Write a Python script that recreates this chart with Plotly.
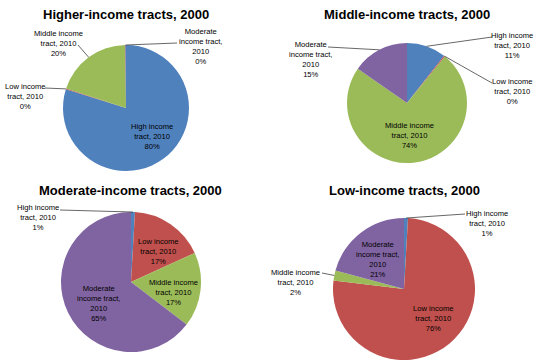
import math
import plotly.graph_objects as go

W, H = 535, 360

# Destination tract category in 2010 (slice order, clockwise from 12 o'clock)
categories = ["High income", "Low income", "Middle income", "Moderate income"]
label_lines = [
    "High income<br>tract, 2010",
    "Low income<br>tract, 2010",
    "Middle income<br>tract, 2010",
    "Moderate<br>income tract,<br>2010",
]
colors = ["#4F81BD", "#C0504D", "#9BBB59", "#8064A2"]

titles = [
    "Higher-income tracts, 2000",
    "Middle-income tracts, 2000",
    "Moderate-income tracts, 2000",
    "Low-income tracts, 2000",
]

# Share (%) of 2000 tracts by 2010 income category
higher_2000 = [79.8, 0.2, 19.8, 0.2]
middle_2000 = [10.6, 0.3, 73.8, 15.3]
moderate_2000 = [0.9, 17.3, 17.2, 64.6]
low_2000 = [0.9, 76.0, 2.3, 20.8]
series = [higher_2000, middle_2000, moderate_2000, low_2000]

# Panel geometry in pixels: pie centre, radius, title position,
# label centres per slice and optional leader-line start (label side)
panels = [
    dict(c=(126, 108), r=63, title=(126, 15),
         labels=[(152, 136), (25, 97), (58, 43), (200, 47)],
         leaders=[None, (45, 88), (78, 45), (177, 43)]),
    dict(c=(407, 103), r=60, title=(407, 15),
         labels=[(512, 45), (512, 91), (409, 135), (310, 60)],
         leaders=[(492, 37), (492, 83), None, (328, 47)]),
    dict(c=(131, 282), r=70, title=(130, 190),
         labels=[(38, 218), (158, 251), (173, 292), (98, 303)],
         leaders=[(60, 210), None, None, None]),
    dict(c=(404, 289), r=71, title=(404, 190),
         labels=[(487, 223), (433, 318), (295, 282), (377, 259)],
         leaders=[(465, 214), None, (322, 273), None]),
]


def px(x):
    return x / W


def py(y):
    return 1 - y / H


fig = go.Figure()
annotations = []
shapes = []

for vals, title, p in zip(series, titles, panels):
    cx, cy = p["c"]
    r = p["r"]
    fig.add_trace(go.Pie(
        values=vals,
        labels=categories,
        sort=False,
        direction="clockwise",
        rotation=0,
        marker=dict(colors=colors, line=dict(width=0)),
        textinfo="none",
        hoverinfo="label+percent",
        domain=dict(x=[max(0, px(cx - r)), min(1, px(cx + r))],
                    y=[max(0, py(cy + r)), min(1, py(cy - r))]),
    ))

    annotations.append(dict(
        text="<b>%s</b>" % title, x=px(p["title"][0]), y=py(p["title"][1]),
        xref="paper", yref="paper", showarrow=False,
        xanchor="center", yanchor="middle",
        font=dict(family="Liberation Sans, Arial", size=13, color="#000000"),
    ))

    total = sum(vals)
    start = 0.0
    for v, name, pos, lead in zip(vals, label_lines, p["labels"], p["leaders"]):
        share = v / total
        mid = (start + share / 2) * 2 * math.pi
        start += share
        annotations.append(dict(
            text="%s<br>%d%%" % (name, round(share * 100)),
            x=px(pos[0]), y=py(pos[1]), xref="paper", yref="paper",
            showarrow=False, xanchor="center", yanchor="middle", align="center",
            font=dict(family="Liberation Sans, Arial", size=7.6, color="#000000"),
        ))
        if lead is not None:
            ex = cx + r * math.sin(mid)
            ey = cy - r * math.cos(mid)
            shapes.append(dict(
                type="line", xref="paper", yref="paper",
                x0=px(lead[0]), y0=py(lead[1]), x1=px(ex), y1=py(ey),
                line=dict(color="#404040", width=0.8),
            ))

fig.update_layout(
    width=W, height=H,
    margin=dict(l=0, r=0, t=0, b=0),
    paper_bgcolor="#FFFFFF",
    plot_bgcolor="#FFFFFF",
    showlegend=False,
    annotations=annotations,
    shapes=shapes,
)

fig.write_html("out.html")
